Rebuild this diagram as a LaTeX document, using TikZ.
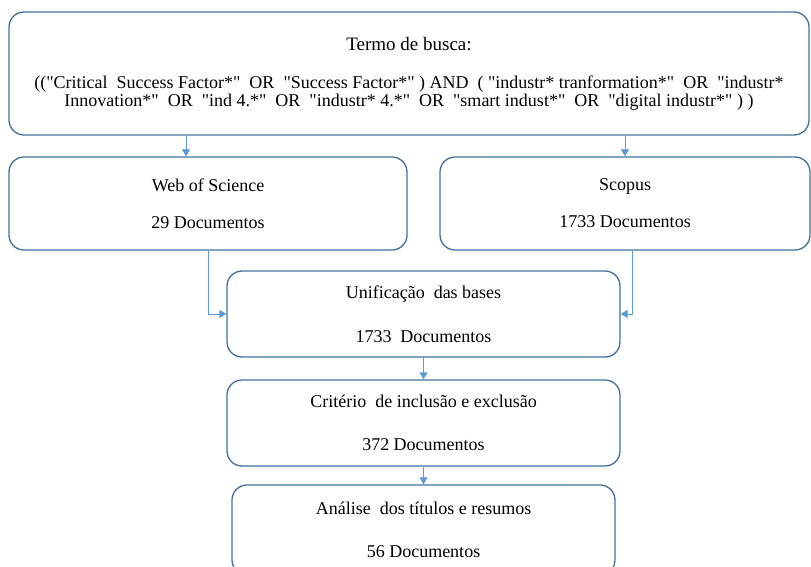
\documentclass[tikz,border=0pt]{standalone}
\usepackage{fontspec}
\setmainfont{Liberation Serif}
\usepackage{tikz}
\usetikzlibrary{calc}
\usetikzlibrary{positioning}
\usetikzlibrary{arrows.meta}
\definecolor{boxBlue}{HTML}{41719C}
\definecolor{arrowBlue}{HTML}{5B9BD5}
\tikzset{
  flowBox/.style={%
    draw=boxBlue, line width=1.3pt, rounded corners=15pt, inner sep=0pt,
    align=center, font=\fontsize{18}{20}\selectfont,
  },
  flowArrow/.style={%
    draw=arrowBlue, line width=0.8pt, -{Triangle[width=8pt,length=7pt]},
  }
}

\begin{document}
\begin{tikzpicture}[x=1pt,y=-1pt]
          \useasboundingbox (0,0) rectangle (811,567);

          \node[flowBox,minimum width=800pt,minimum height=123pt] (termo) at (409,73.5)
            {{\fontsize{19}{20}\selectfont Termo de busca:}\\[18pt]
             ((\textquotedbl Critical\ \ Success Factor*\textquotedbl\ \ OR\ \ \textquotedbl Success Factor*\textquotedbl\ ) AND\ \ ( \textquotedbl industr* tranformation*\textquotedbl\ \ OR\ \ \textquotedbl industr*\\[-2pt]
             Innovation*\textquotedbl\ \ OR\ \ \textquotedbl ind 4.*\textquotedbl\ \ OR\ \ \textquotedbl industr* 4.*\textquotedbl\ \ OR\ \ \textquotedbl smart indust*\textquotedbl\ \ OR\ \ \textquotedbl digital industr*\textquotedbl\ ) )};
          \node[flowBox,minimum width=398pt,minimum height=93pt] (wos) at (208,203.5)
            {Web of Science\\[17pt] 29 Documentos};
          \node[flowBox,minimum width=370pt,minimum height=93pt] (scopus) at (625,203.5)
            {Scopus\\[17pt] 1733 Documentos};
          \node[flowBox,minimum width=393pt,minimum height=86pt] (unif) at (423.5,314)
            {Unificação\ \ das bases\\[24pt] 1733\ \ Documentos};
          \node[flowBox,minimum width=393pt,minimum height=86pt] (criterio) at (423.5,423)
            {Critério\ \ de inclusão e exclusão\\[23pt] 372 Documentos};
          % runs past the bottom edge
          \node[flowBox,minimum width=383pt,minimum height=90pt] (analise) at (423.5,530)
            {Análise\ \ dos títulos e resumos\\[23pt] 56 Documentos};

          \draw[flowArrow] ([xshift=-22pt]wos.north |- termo.south) -- ([xshift=-22pt]wos.north);
          \draw[flowArrow] (scopus.north |- termo.south) -- (scopus.north);
          \draw[flowArrow] (wos.south) |- (unif.west);
          \draw[flowArrow] ([xshift=7pt]scopus.south) |- (unif.east);
          \draw[flowArrow] (unif.south) -- (criterio.north);
          \draw[flowArrow] (criterio.south) -- (analise.north);
        \end{tikzpicture}
\end{document}
